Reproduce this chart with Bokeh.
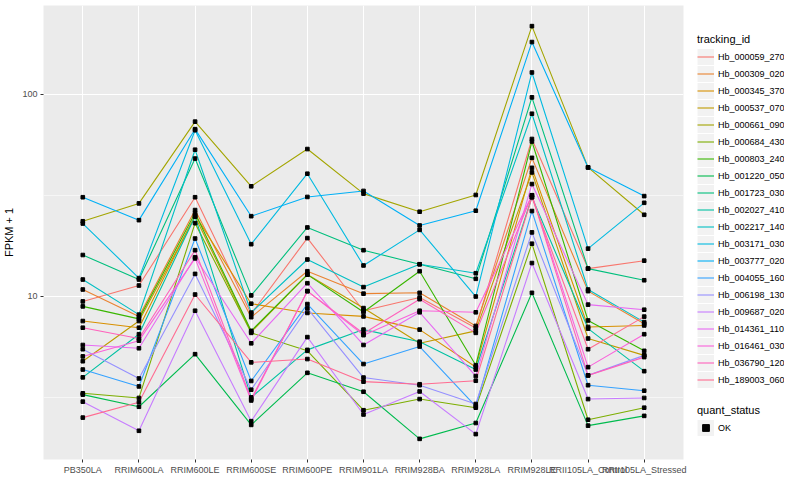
import numpy as np
from bokeh.plotting import figure
from bokeh.layouts import row
from bokeh.models import (FactorRange, Range1d, FixedTicker, Legend, LegendItem,
                          PrintfTickFormatter, ColumnDataSource, Label)
from bokeh.embed import file_html
from bokeh.resources import INLINE

samples = ["PB350LA", "RRIM600LA", "RRIM600LE", "RRIM600SE", "RRIM600PE",
           "RRIM901LA", "RRIM928BA", "RRIM928LA", "RRIM928LE",
           "RRII105LA_Control", "RRII105LA_Stressed"]

tracking_ids = ["Hb_000059_270", "Hb_000309_020", "Hb_000345_370", "Hb_000537_070",
                "Hb_000661_090", "Hb_000684_430", "Hb_000803_240", "Hb_001220_050",
                "Hb_001723_030", "Hb_002027_410", "Hb_002217_140", "Hb_003171_030",
                "Hb_003777_020", "Hb_004055_160", "Hb_006198_130", "Hb_009687_020",
                "Hb_014361_110", "Hb_016461_030", "Hb_036790_120", "Hb_189003_060"]

palette = ["#F8766D", "#EA8331", "#D89000", "#C09B00", "#A3A500", "#7CAE00",
           "#39B600", "#00BB4E", "#00BF7D", "#00C1A3", "#00BFC4", "#00BAE0",
           "#00B0F6", "#35A2FF", "#9590FF", "#C77CFF", "#E76BF3", "#FA62DB",
           "#FF62BC", "#FF6C91"]

quant_status = ["OK"]

# FPKM + 1 per sample (order of `samples`)
hb_000059_270 = [9.43, 11.3, 30.9, 8.18, 19.4, 8.48, 9.86, 6.97, 60.0, 13.7, 15.0]
hb_000309_020 = [10.8, 7.93, 26.7, 7.88, 13.3, 10.3, 10.4, 7.13, 48.4, 10.6, 7.31]
hb_000345_370 = [7.54, 6.99, 25.2, 9.19, 8.27, 7.95, 6.84, 4.47, 43.2, 7.05, 7.17]
hb_000537_070 = [4.77, 7.54, 24.8, 6.66, 12.8, 8.74, 5.85, 6.74, 41.0, 6.18, 5.10]
hb_000661_090 = [23.5, 28.8, 73.1, 35.0, 53.5, 32.2, 26.2, 31.7, 217.0, 43.4, 25.3]
hb_000684_430 = [3.31, 3.14, 23.0, 6.59, 5.37, 2.73, 3.10, 2.81, 18.2, 2.45, 2.81]
hb_000803_240 = [8.91, 7.73, 25.8, 6.74, 12.8, 8.36, 13.3, 4.56, 58.3, 7.59, 5.37]
hb_001220_050 = [3.26, 2.84, 5.17, 2.31, 4.18, 3.37, 1.97, 2.36, 10.4, 2.29, 2.56]
hb_001723_030 = [16.0, 12.1, 48.0, 10.1, 21.9, 16.9, 14.4, 12.2, 96.4, 13.7, 12.0]
hb_002027_410 = [3.97, 6.49, 24.8, 3.16, 5.43, 6.84, 5.96, 4.34, 30.9, 6.92, 4.26]
hb_002217_140 = [12.1, 8.11, 53.1, 8.30, 15.2, 11.1, 14.4, 13.0, 80.0, 10.8, 7.45]
hb_003171_030 = [22.9, 12.3, 66.3, 18.1, 40.4, 14.2, 21.3, 9.97, 128.0, 17.2, 29.0]
hb_003777_020 = [30.9, 23.8, 67.1, 24.9, 31.0, 33.2, 22.4, 26.5, 181.0, 43.4, 31.3]
hb_004055_160 = [4.34, 3.58, 19.3, 3.81, 9.15, 4.62, 5.64, 2.85, 26.4, 3.63, 3.41]
hb_006198_130 = [5.47, 3.92, 12.9, 3.45, 8.71, 3.96, 3.63, 2.93, 20.7, 4.06, 5.10]
hb_009687_020 = [3.01, 2.16, 8.48, 2.41, 6.28, 2.60, 3.38, 2.08, 14.6, 3.10, 3.14]
hb_014361_110 = [5.74, 5.53, 15.6, 5.85, 11.6, 5.74, 8.33, 4.03, 35.9, 9.09, 8.58]
hb_016461_030 = [5.04, 6.03, 15.4, 3.05, 10.6, 6.42, 8.48, 8.33, 31.6, 4.46, 6.49]
hb_036790_120 = [6.99, 6.18, 16.9, 3.10, 10.6, 6.54, 9.67, 6.59, 31.6, 4.06, 5.00]
hb_189003_060 = [2.51, 2.99, 10.2, 4.71, 4.89, 3.78, 3.67, 3.82, 30.9, 5.47, 7.93]

series = [hb_000059_270, hb_000309_020, hb_000345_370, hb_000537_070, hb_000661_090,
          hb_000684_430, hb_000803_240, hb_001220_050, hb_001723_030, hb_002027_410,
          hb_002217_140, hb_003171_030, hb_003777_020, hb_004055_160, hb_006198_130,
          hb_009687_020, hb_014361_110, hb_016461_030, hb_036790_120, hb_189003_060]

y_major = [10, 100]
y_minor = [10 ** 0.5, 10 ** 1.5, 10 ** 2.5]

allv = np.concatenate([np.asarray(s, dtype=float) for s in series])
lmin, lmax = np.log10(allv.min()), np.log10(allv.max())
pad = 0.05 * (lmax - lmin)

FONT = "Liberation Sans"
W, H = 690, 484
BL, BR, BT, BB = 40, 7, 5, 25

p = figure(width=W, height=H,
           x_range=FactorRange(factors=samples, range_padding=0.2, range_padding_units="absolute"),
           y_range=Range1d(10 ** (lmin - pad), 10 ** (lmax + pad)),
           y_axis_type="log", output_backend="svg", toolbar_location=None,
           min_border_left=BL, min_border_right=BR, min_border_top=BT, min_border_bottom=BB)

p.background_fill_color = "#EBEBEB"
p.border_fill_color = "white"
p.outline_line_color = None

p.yaxis.ticker = FixedTicker(ticks=y_major, minor_ticks=y_minor)
p.yaxis.formatter = PrintfTickFormatter(format="%d")

p.xgrid.grid_line_color = "white"
p.xgrid.grid_line_width = 1.1
p.ygrid.grid_line_color = "white"
p.ygrid.grid_line_width = 1.1
p.ygrid.minor_grid_line_color = "white"
p.ygrid.minor_grid_line_width = 0.55

for ax in (p.xaxis, p.yaxis):
    ax.axis_line_color = None
    ax.major_tick_line_color = "#333333"
    ax.major_tick_out = 3
    ax.major_tick_in = 0
    ax.minor_tick_line_color = None
    ax.major_label_text_color = "#4D4D4D"
    ax.major_label_text_font = FONT
    ax.major_label_text_font_size = "9px"
    ax.major_label_standoff = 2
    ax.major_label_text_line_height = 1.0
    ax.axis_label_text_font = FONT
    ax.axis_label_text_font_size = "11px"
    ax.axis_label_text_font_style = "normal"
    ax.axis_label_text_color = "black"

p.yaxis.axis_label_standoff = 4
p.yaxis.axis_label = "FPKM + 1"

# x-axis title drawn just below the tick labels
p.add_layout(Label(x=(W - BL - BR) / 2, y=-19, x_units="screen", y_units="screen",
                   text="sample_name", text_align="center", text_baseline="middle",
                   text_font=FONT, text_font_size="11px", text_color="black"))

for vals, col in zip(series, palette):
    p.line(x=samples, y=vals, line_color=col, line_width=1.1)

for vals in series:
    p.scatter(x=samples, y=vals, marker="square", size=3.6, color="black")

# ---- legend panel (key proxies hold one off-screen NaN point) ----
lg = figure(width=94, height=H, x_range=Range1d(0, 1), y_range=Range1d(0, 1),
            x_axis_location=None, y_axis_location=None, output_backend="svg",
            toolbar_location=None, min_border=0)
lg.outline_line_color = None
lg.background_fill_color = "white"
lg.border_fill_color = "white"
lg.grid.visible = False


def proxy():
    return ColumnDataSource(data=dict(x=[float("nan")], y=[float("nan")]))


bg = lg.line(x="x", y="y", source=proxy(), line_color="#F2F2F2", line_width=16)
key_lines = [lg.line(x="x", y="y", source=proxy(), line_color=col, line_width=1.1)
             for col in palette]
key_point = lg.scatter(x="x", y="y", source=proxy(), marker="square", size=4, color="black")


def style_legend(leg):
    leg.glyph_width = 17
    leg.glyph_height = 17
    leg.label_height = 17
    leg.spacing = 0
    leg.padding = 0
    leg.margin = 0
    leg.label_standoff = 4
    leg.border_line_color = None
    leg.background_fill_alpha = 0
    leg.label_text_font = FONT
    leg.label_text_font_size = "9px"
    leg.label_text_color = "black"
    leg.title_text_font = FONT
    leg.title_text_font_size = "11px"
    leg.title_text_font_style = "normal"
    leg.title_text_color = "black"
    leg.title_standoff = 3


leg1 = Legend(items=[LegendItem(label=tid, renderers=[bg, r])
                     for tid, r in zip(tracking_ids, key_lines)],
              title="tracking_id", location=(7, 71))
style_legend(leg1)
lg.add_layout(leg1)

leg2 = Legend(items=[LegendItem(label=s, renderers=[bg, key_point]) for s in quant_status],
              title="quant_status", location=(7, 23))
style_legend(leg2)
lg.add_layout(leg2)

layout = row(p, lg)
open("out.html", "w").write(file_html(layout, INLINE))
